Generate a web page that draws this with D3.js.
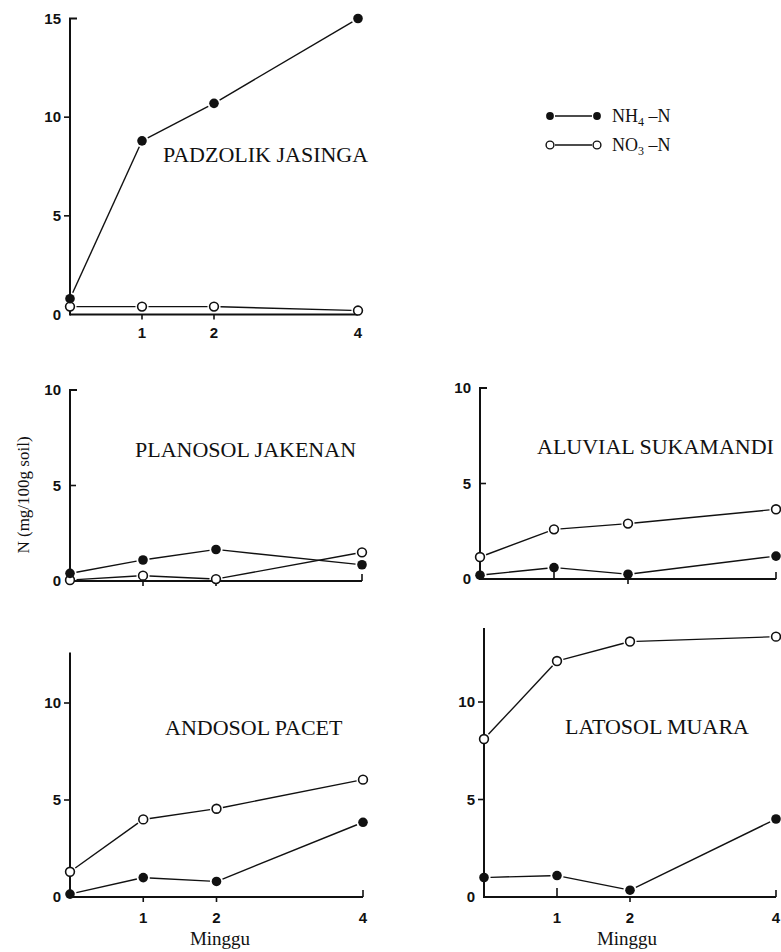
<!DOCTYPE html>
<html>
<head>
<meta charset="utf-8">
<script src="https://cdn.jsdelivr.net/npm/d3@7"></script>
<style>
  body { margin: 0; background: #fff; }
  svg { display: block; }
</style>
</head>
<body>
<svg id="chart" width="781" height="952"></svg>
<script>
// Incubation time (weeks) and the labelled ticks on the time axis
const weeks = [0, 1, 2, 4];
const weekTicks = [1, 2, 4];
const weekTickLabels = ["1", "2", "4"];

// Soil names, one panel each
const soilNames = ["PADZOLIK JASINGA", "PLANOSOL JAKENAN", "ALUVIAL SUKAMANDI", "ANDOSOL PACET", "LATOSOL MUARA"];

// NH4-N (mg/100 g soil) per soil
const nh4Padzolik = [0.8, 8.8, 10.7, 15.0];
const nh4Planosol = [0.4, 1.1, 1.65, 0.85];
const nh4Aluvial  = [0.2, 0.6, 0.25, 1.2];
const nh4Andosol  = [0.15, 1.0, 0.8, 3.85];
const nh4Latosol  = [1.0, 1.1, 0.35, 4.0];

// NO3-N (mg/100 g soil) per soil
const no3Padzolik = [0.4, 0.4, 0.4, 0.2];
const no3Planosol = [0.05, 0.28, 0.1, 1.5];
const no3Aluvial  = [1.15, 2.6, 2.9, 3.65];
const no3Andosol  = [1.3, 4.0, 4.55, 6.05];
const no3Latosol  = [8.1, 12.1, 13.1, 13.35];

// Value ticks on the N axes
const yTicksTop = [0, 5, 10, 15];
const yTicksOther = [0, 5, 10];

const nh4Series = [nh4Padzolik, nh4Planosol, nh4Aluvial, nh4Andosol, nh4Latosol];
const no3Series = [no3Padzolik, no3Planosol, no3Aluvial, no3Andosol, no3Latosol];

// Panel geometry: left/right pixel ends of the week axis, pixel rows of 0 and of the top value
const panels = [
  { x0: 70,  x4: 358, y0: 314.5, yTop: 18.5, vTop: 15, axisTop: 15,  capTick: true,  tickSide: -1, xLabels: true,  xLabelY: 338, titleX: 163, titleY: 162, t1Up: false },
  { x0: 70,  x4: 362, y0: 581,   yTop: 390,  vTop: 10, axisTop: 10,  capTick: true,  tickSide: 1,  xLabels: false, xLabelY: 0,   titleX: 135, titleY: 457, t1Up: false },
  { x0: 480, x4: 776, y0: 579,   yTop: 388,  vTop: 10, axisTop: 10,  capTick: true,  tickSide: 1,  xLabels: false, xLabelY: 0,   titleX: 537, titleY: 454, t1Up: true },
  { x0: 70,  x4: 363, y0: 897,   yTop: 703,  vTop: 10, axisTop: 12.6, capTick: false, tickSide: -1, xLabels: true, xLabelY: 923, titleX: 165, titleY: 735, t1Up: false },
  { x0: 484, x4: 776, y0: 897,   yTop: 702,  vTop: 10, axisTop: 13.8, capTick: false, tickSide: -1, xLabels: true, xLabelY: 923, titleX: 565, titleY: 734, t1Up: true }
];

const ink = "#111";
const svg = d3.select("#chart");
svg.append("rect").attr("width", 781).attr("height", 952).attr("fill", "#fff");

const tickFont = "'Liberation Sans', Arial, sans-serif";
const serif = "'Liberation Serif', 'Times New Roman', serif";
const rMark = 4.8;
const gap = 6.5;

// Line between successive points, trimmed so it stops short of each marker
function trimmedSegments(pts) {
  const segs = [];
  for (let i = 0; i < pts.length - 1; i++) {
    const [ax, ay] = pts[i], [bx, by] = pts[i + 1];
    const dx = bx - ax, dy = by - ay, len = Math.hypot(dx, dy);
    if (len < 2 * gap + 1) continue;
    const ux = dx / len, uy = dy / len;
    segs.push([ax + ux * gap, ay + uy * gap, bx - ux * gap, by - uy * gap]);
  }
  return segs;
}

panels.forEach((p, i) => {
  const x = d3.scaleLinear().domain([0, 4]).range([p.x0, p.x4]);
  const y = d3.scaleLinear().domain([0, p.vTop]).range([p.y0, p.yTop]);
  const g = svg.append("g");

  // N axis
  g.append("line")
    .attr("x1", x(0)).attr("x2", x(0))
    .attr("y1", y(0) + 1).attr("y2", y(p.axisTop))
    .attr("stroke", ink).attr("stroke-width", 2);
  if (p.capTick) {
    g.append("line")
      .attr("x1", x(0) - 1).attr("x2", x(0) + 7)
      .attr("y1", y(p.axisTop)).attr("y2", y(p.axisTop))
      .attr("stroke", ink).attr("stroke-width", 2);
  }
  const yt = (i === 0 ? yTicksTop : yTicksOther);
  yt.filter(v => v > 0 && v < p.axisTop && !(p.capTick && v === p.axisTop)).forEach(v => {
    g.append("line")
      .attr("x1", x(0)).attr("x2", x(0) + 6 * p.tickSide)
      .attr("y1", y(v)).attr("y2", y(v))
      .attr("stroke", ink).attr("stroke-width", 1.6);
  });
  yt.forEach(v => {
    g.append("text")
      .attr("x", x(0) - 9).attr("y", y(v) + 5)
      .attr("text-anchor", "end")
      .attr("font-family", tickFont).attr("font-weight", "bold").attr("font-size", 15)
      .attr("fill", ink)
      .text(v);
  });

  // Week axis
  g.append("line")
    .attr("x1", x(0)).attr("x2", x(4))
    .attr("y1", y(0)).attr("y2", y(0))
    .attr("stroke", ink).attr("stroke-width", 2);
  weekTicks.forEach(w => {
    let up = (w === 4) || (w === 1 && p.t1Up);
    const len = w === 4 ? 7 : (up ? 9 : 5);
    g.append("line")
      .attr("x1", x(w)).attr("x2", x(w))
      .attr("y1", y(0)).attr("y2", y(0) + (up ? -len : len))
      .attr("stroke", ink).attr("stroke-width", 1.6);
  });
  if (p.xLabels) {
    weekTicks.forEach((w, k) => {
      g.append("text")
        .attr("x", x(w)).attr("y", p.xLabelY)
        .attr("text-anchor", "middle")
        .attr("font-family", tickFont).attr("font-weight", "bold").attr("font-size", 15)
        .attr("fill", ink)
        .text(weekTickLabels[k]);
    });
  }

  // Soil name
  g.append("text")
    .attr("x", p.titleX).attr("y", p.titleY)
    .attr("font-family", serif).attr("font-size", 22)
    .attr("fill", ink)
    .text(soilNames[i]);

  // Series: NO3 (open) and NH4 (filled)
  [[no3Series[i], false], [nh4Series[i], true]].forEach(([vals, filled]) => {
    const pts = weeks.map((w, k) => [x(w), y(vals[k])]);
    trimmedSegments(pts).forEach(s => {
      g.append("line")
        .attr("x1", s[0]).attr("y1", s[1]).attr("x2", s[2]).attr("y2", s[3])
        .attr("stroke", ink).attr("stroke-width", 1.4);
    });
    g.selectAll(null).data(pts).enter().append("circle")
      .attr("cx", d => d[0]).attr("cy", d => d[1])
      .attr("r", filled ? rMark : rMark - 0.4)
      .attr("fill", filled ? ink : "#fff")
      .attr("stroke", ink).attr("stroke-width", filled ? 0 : 1.6);
  });
});

// Shared axis titles
svg.append("text")
  .attr("transform", "translate(29,495) rotate(-90)")
  .attr("text-anchor", "middle")
  .attr("font-family", serif).attr("font-size", 17).attr("fill", ink)
  .text("N (mg/100g soil)");

[[220], [627]].forEach(([cx]) => {
  svg.append("text")
    .attr("x", cx).attr("y", 945)
    .attr("text-anchor", "middle")
    .attr("font-family", serif).attr("font-size", 19).attr("fill", ink)
    .text("Minggu");
});

// Legend
const legend = svg.append("g");
const legendRows = [
  { y: 116, filled: true,  main: "NH", sub: "4" },
  { y: 145, filled: false, main: "NO", sub: "3" }
];
legendRows.forEach(r => {
  legend.append("line")
    .attr("x1", 555).attr("x2", 592).attr("y1", r.y).attr("y2", r.y)
    .attr("stroke", ink).attr("stroke-width", 1.4);
  [550, 597].forEach(cx => {
    legend.append("circle")
      .attr("cx", cx).attr("cy", r.y).attr("r", 3.9)
      .attr("fill", r.filled ? ink : "#fff")
      .attr("stroke", ink).attr("stroke-width", r.filled ? 0 : 1.4);
  });
  const t = legend.append("text")
    .attr("x", 612).attr("y", r.y + 6)
    .attr("font-family", serif).attr("font-size", 18).attr("fill", ink);
  t.append("tspan").text(r.main);
  t.append("tspan").attr("dy", 4).attr("font-size", 12).text(r.sub);
  t.append("tspan").attr("dy", -4).text(" \u2013N");
});
</script>
</body>
</html>
